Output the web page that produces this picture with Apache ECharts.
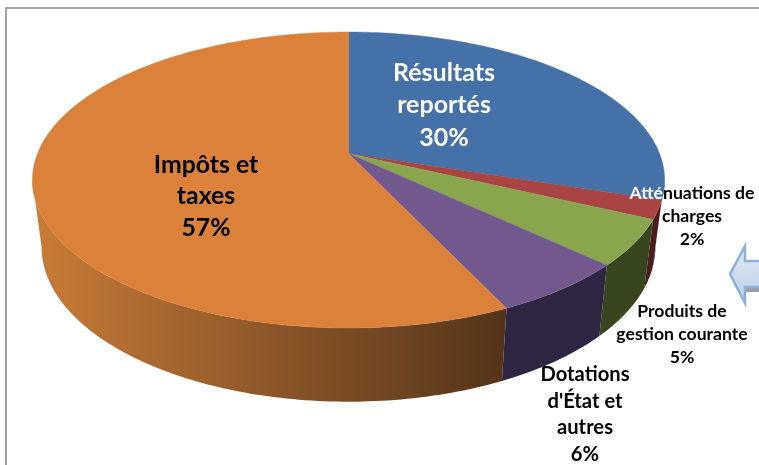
<!DOCTYPE html>
<html>
<head>
<meta charset="utf-8">
<style>html,body{margin:0;padding:0;background:#fff}#c{width:759px;height:465px}</style>
<script src="https://cdn.jsdelivr.net/npm/echarts@6/dist/echarts.min.js"></script>
</head>
<body>
<div id="c"></div>
<script>
const categories = ["Résultats reportés", "Atténuations de charges", "Produits de gestion courante", "Dotations d'État et autres", "Impôts et taxes"];
const values = [30, 2, 5, 6, 57];
const labelLines = [["Résultats", "reportés"], ["Atténuations de", "charges"], ["Produits de", "gestion courante"], ["Dotations", "d'État et", "autres"], ["Impôts et", "taxes"]];

const topColors = ["#4471A7", "#A84543", "#89A54E", "#71588F", "#DA813C"];
const sideColors = ["#2B4766", "#4A1D1C", "#39451F", "#2E2540", null];
const labelBox = [
  {x: 444, y: 105, size: 25, lh: 32.5},
  {x: 692, y: 216, size: 17.6, lh: 23},
  {x: 682, y: 334, size: 17.6, lh: 23},
  {x: 585, y: 414.5, size: 20.2, lh: 26.4},
  {x: 206, y: 196.5, size: 24.8, lh: 31.5}
];

// Perspective projection of the pie disc onto the screen
const K = 0.179;
const topRim = {x0: 348.5, y0: 153.5, bx: 311, ay: 143.26};
const lowRim = {x0: 348.5, y0: 219, bx: 302, ay: 150};
const silhouette = Math.acos(-K) * 180 / Math.PI;   // angle where the rim turns away from the viewer
function project(rim, deg) {
  const a = deg * Math.PI / 180, u = Math.sin(a), v = -Math.cos(a), w = 1 - K * v;
  return [rim.x0 + rim.bx * u / w, rim.y0 + rim.ay * v / w];
}
function arc(rim, from, to) {
  const pts = [], n = Math.max(2, Math.ceil(Math.abs(to - from)));
  for (let i = 0; i <= n; i++) pts.push(project(rim, from + (to - from) * i / n));
  return pts;
}
const total = values.reduce((a, b) => a + b, 0);
const spans = [];
values.reduce((acc, v) => { const e = acc + v; spans.push([acc / total * 360, e / total * 360]); return e; }, 0);

const orangeSide = new echarts.graphic.LinearGradient(40, 0, 510, 0, [
  {offset: 0, color: "#C67B38"},
  {offset: 0.5, color: "#8C5629"},
  {offset: 1, color: "#533318"}
], true);

function renderSide(params) {
  const i = params.dataIndex;
  const a = Math.max(spans[i][0], silhouette);
  const b = Math.min(spans[i][1], 360 - silhouette);
  const pts = arc(topRim, a, b).concat(arc(lowRim, b, a));
  return {type: "polygon", shape: {points: pts}, silent: true,
    style: {fill: sideColors[i] || orangeSide, stroke: null}};
}
function renderTop(params) {
  const i = params.dataIndex, [a, b] = spans[i];
  const pts = [[topRim.x0, topRim.y0]].concat(arc(topRim, a, b));
  return {type: "polygon", shape: {points: pts}, silent: true,
    style: {fill: topColors[i], stroke: topColors[i], lineWidth: 0.4}};
}
function renderLabel(params) {
  const i = params.dataIndex, box = labelBox[i];
  const lines = labelLines[i].concat([values[i] + "%"]);
  const color = i === 0 ? "#fff" : "#000";
  const text = lines.map(l => {
    if (i === 1 && l.startsWith("Atté")) return "{w|Atté}{k|" + l.slice(4) + "}";
    return "{k|" + l + "}";
  }).join("\n");
  const base = {fontFamily: "Lato", fontWeight: "bold", fontSize: box.size, lineHeight: box.lh};
  return {type: "text", silent: true, x: box.x, y: box.y,
    style: {text, align: "center", verticalAlign: "middle",
      rich: {k: Object.assign({fill: color}, base), w: Object.assign({fill: "#fff"}, base)}}};
}

const rows = categories.map((name, i) => ({name, value: values[i]}));
const chart = echarts.init(document.getElementById("c"), null, {renderer: "canvas"});
chart.setOption({
  animation: false,
  backgroundColor: "#fff",
  tooltip: {show: false},
  graphic: [
    {type: "polyline", z: 0, silent: true,
      shape: {points: [[6, 465], [6, 8], [759, 8]]},
      style: {stroke: "#A6A6A6", lineWidth: 2, fill: null}},
    {type: "rect", z: 0, silent: true, shape: {x: 745, y: 284, width: 14, height: 8},
      style: {fill: "#9A9EA6"}},
    {type: "polygon", z: 0, silent: true,
      shape: {points: [[730, 274], [745, 246], [745, 261], [761, 261], [761, 287], [745, 287], [745, 303]]},
      style: {
        fill: new echarts.graphic.LinearGradient(0, 0, 0, 1, [
          {offset: 0, color: "#E3EBF5"}, {offset: 1, color: "#B9CDE5"}]),
        stroke: "#8DB2D9", lineWidth: 2.5, lineJoin: "miter"}}
  ],
  series: [
    {type: "custom", coordinateSystem: "none", renderItem: renderSide, data: rows, z: 1, silent: true},
    {type: "custom", coordinateSystem: "none", renderItem: renderTop, data: rows, z: 2, silent: true},
    {type: "custom", coordinateSystem: "none", renderItem: renderLabel, data: rows, z: 3, silent: true}
  ]
});
</script>
</body>
</html>
